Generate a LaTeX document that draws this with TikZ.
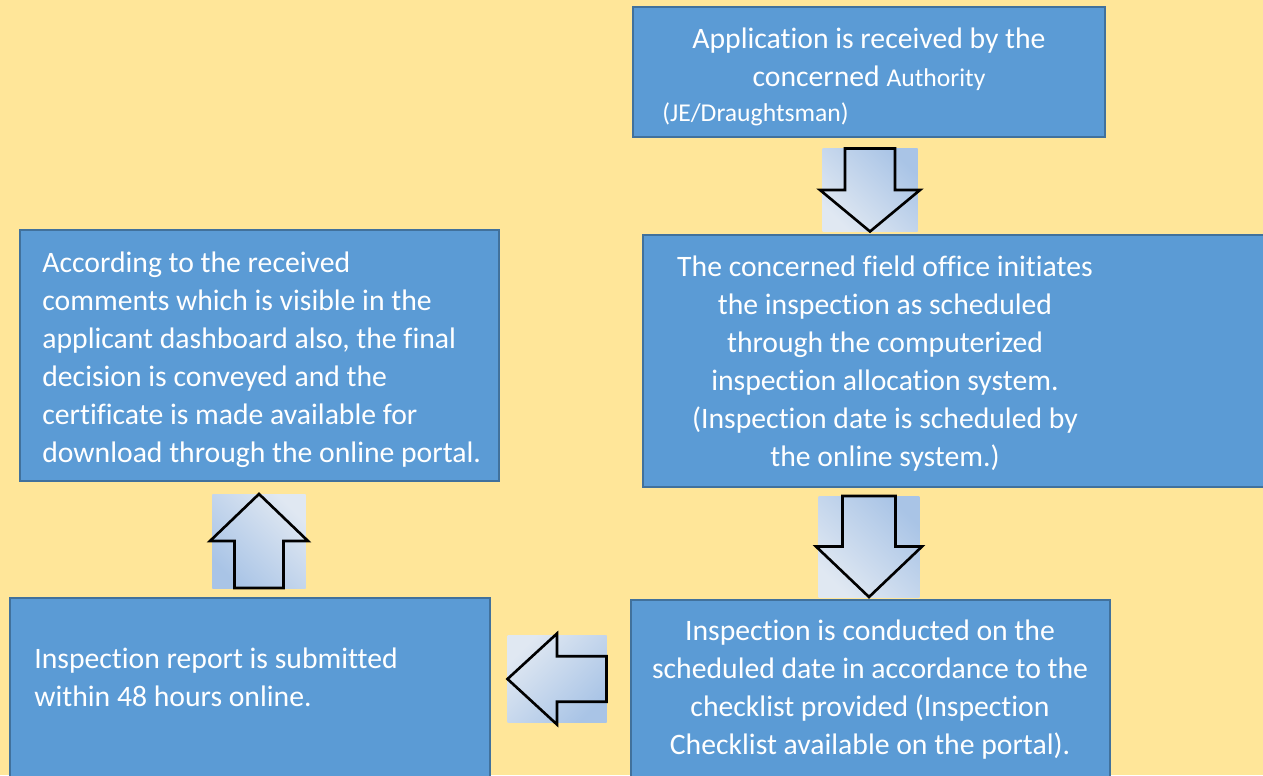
\documentclass[tikz,border=0pt]{standalone}
\usepackage{fontspec}
\setmainfont{Carlito}[Ligatures=NoCommon]
\usepackage{xcolor}
\usetikzlibrary{fit}

\definecolor{pagebg}{HTML}{FFE699}
\definecolor{boxfill}{HTML}{5B9BD5}
\definecolor{boxline}{HTML}{41719C}
\definecolor{arrowlight}{HTML}{E0E8F2}
\definecolor{arrowdark}{HTML}{A9C4E6}

% block arrow: name, centre, direction, length, width, shading angle
\newcommand{\blockarrow}[6]{%
  \coordinate (#1) at (#2);
  \begin{scope}[shift={(#2)}, rotate=#3]
    \shade[top color=arrowlight, bottom color=arrowdark, shading angle=#6]
      ({-#4/2},{-0.475*#5}) rectangle ({#4/2},{0.475*#5});
    \draw[line width=1.5pt, line join=miter]
      ({-#4/2},{-#5/4}) -- (0,{-#5/4}) -- (0,{-#5/2}) -- ({#4/2},0)
      -- (0,{#5/2}) -- (0,{#5/4}) -- ({-#4/2},{#5/4}) -- cycle;
  \end{scope}}

\begin{document}
\begin{tikzpicture}[x=0.02cm, y=0.02cm,
    box/.style={draw=boxline, line width=1.1pt, fill=boxfill, inner sep=0pt},
    txt/.style={text=white, inner sep=0pt, font=\fontsize{16.9}{21.6}\selectfont},
    smalltxt/.style={text=white, inner sep=0pt, font=\fontsize{14.6}{18}\selectfont}]

\useasboundingbox[fill=pagebg] (0,0) rectangle (1263,775);

% boxes
\node[box, fit={(633,638) (1105,768)}] (boxA) {};
\node[box, fit={(643,288) (1275,540)}] (boxB) {};
\node[box, fit={(631,-10) (1110,175)}] (boxC) {};
\node[box, fit={(10,-10) (490,177)}] (boxD) {};
\node[box, fit={(20,294) (499,545)}] (boxE) {};

% arrows between the boxes
\blockarrow{arrAB}{870,585}{-90}{83}{100}{135}
\blockarrow{arrBC}{869,228.5}{-90}{101}{106}{135}
\blockarrow{arrCD}{557,96}{180}{99}{91}{45}
\blockarrow{arrDE}{259,234}{90}{94}{98}{-45}

% texts
\node[txt, align=center, anchor=north] (aText) at (869,753.6)
  {\strut Application is received by the\\concerned {\fontsize{14.6}{18}\selectfont Authority}};
\node[smalltxt, anchor=base west] (aNote) at (662,653) {(JE/Draughtsman)};

\node[txt, align=center, anchor=north] (bText) at (885,525.6)
  {\strut The concerned field office initiates\\the inspection as scheduled\\through the computerized\\inspection allocation system.\\(Inspection date is scheduled by\\the online system.)};

\node[txt, align=center, anchor=north] (cText) at (870,161.6)
  {\strut Inspection is conducted on the\\scheduled date in accordance to the\\checklist provided (Inspection\\Checklist available on the portal).};

\node[txt, align=left, anchor=north west] (dText) at (34,133.6)
  {\strut Inspection report is submitted\\within 48 hours online.};

\node[txt, align=left, anchor=north west] (eText) at (42,529.6)
  {\strut According to the received\\comments which is visible in the\\applicant dashboard also, the final\\decision is conveyed and the\\certificate is made available for\\download through the online portal.};

\end{tikzpicture}
\end{document}
